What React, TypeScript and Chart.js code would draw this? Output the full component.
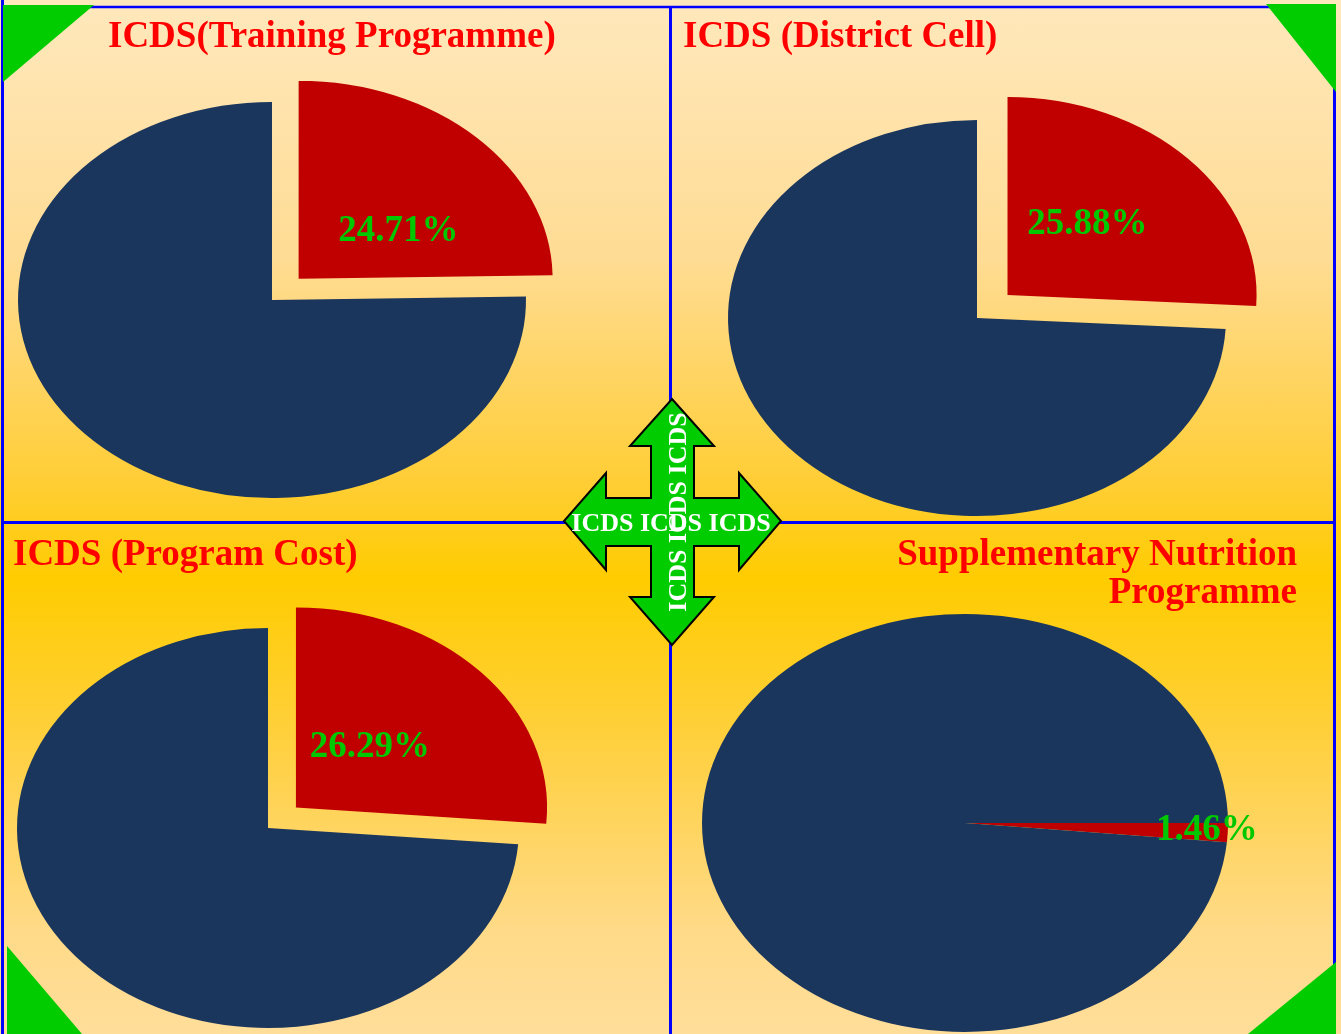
import React, { useEffect, useRef } from 'react';
import { Chart, registerables } from 'chart.js';

Chart.register(...registerables);

// ---- data ----
const sliceCategories = ['Share', 'Remaining'];
const trainingValues = [24.71, 75.29];
const districtCellValues = [25.88, 74.12];
const programCostValues = [26.29, 73.71];
const nutritionValues = [1.46, 98.54];
const sliceLabels = ['24.71%', '25.88%', '26.29%', '1.46%'];
const panelTitles = [
  'ICDS(Training Programme)',
  'ICDS (District Cell)',
  'ICDS (Program Cost)',
  'Supplementary Nutrition',
  'Programme',
];
const arrowWords = 'ICDS ICDS ICDS';

const SERIF = "'Liberation Serif', 'Times New Roman', serif";
const RED = '#C00000';
const NAVY = '#1B365D';

type PieProps = {
  values: number[];
  label: string;
  cx: number;
  cy: number;
  rx: number;
  ry: number;
  offset: number;
  rotation: number;
  labelFrac: number;
  labelR: number;
};

function EllipsePie(p: PieProps) {
  const ref = useRef<HTMLCanvasElement>(null);
  const S = Math.ceil(2 * (p.rx + p.offset + 90));
  useEffect(() => {
    if (!ref.current) return;
    const k = p.ry / p.rx;
    const squash = {
      id: 'squash',
      beforeDatasetsDraw(chart: any) {
        const { ctx, chartArea } = chart;
        const c = (chartArea.top + chartArea.bottom) / 2;
        ctx.save();
        ctx.translate(0, c);
        ctx.scale(1, k);
        ctx.translate(0, -c);
      },
      afterDatasetsDraw(chart: any) {
        chart.ctx.restore();
      },
      afterDraw(chart: any) {
        const { ctx } = chart;
        const arc: any = chart.getDatasetMeta(0).data[0];
        const { x, y, startAngle, endAngle, outerRadius } = arc.getProps(
          ['x', 'y', 'startAngle', 'endAngle', 'outerRadius'],
          true
        );
        // Chart.js translates an arc by offset / 4 along its mid angle
        const off = (arc.options.offset || 0) / 4;
        const mid = (startAngle + endAngle) / 2;
        const a = startAngle + (endAngle - startAngle) * p.labelFrac;
        const px = x + Math.cos(mid) * off + Math.cos(a) * outerRadius * p.labelR;
        const py = y + Math.sin(mid) * off + Math.sin(a) * outerRadius * p.labelR;
        const sy = y + (py - y) * k;
        ctx.save();
        ctx.font = `bold 37px ${SERIF}`;
        ctx.fillStyle = '#00C800';
        ctx.textAlign = 'center';
        ctx.textBaseline = 'middle';
        ctx.fillText(p.label, px, sy);
        ctx.restore();
      },
    };
    const chart = new Chart(ref.current, {
      type: 'pie',
      data: {
        labels: sliceCategories,
        datasets: [
          {
            data: p.values,
            backgroundColor: [RED, NAVY],
            borderWidth: 0,
            offset: [p.offset * 4, 0],
            hoverOffset: 0,
          },
        ],
      },
      options: {
        responsive: false,
        animation: false,
        devicePixelRatio: 1,
        radius: p.rx,
        rotation: p.rotation,
        layout: { padding: 0 },
        events: [],
        plugins: {
          legend: { display: false },
          tooltip: { enabled: false },
          title: { display: false },
        },
      } as any,
      plugins: [squash],
    });
    return () => chart.destroy();
  }, []);
  return (
    <canvas
      ref={ref}
      width={S}
      height={S}
      style={{ position: 'absolute', left: p.cx - S / 2, top: p.cy - S / 2, width: S, height: S }}
    />
  );
}

const titleStyle: React.CSSProperties = {
  position: 'absolute',
  fontFamily: SERIF,
  fontWeight: 'bold',
  fontSize: 37,
  lineHeight: '38px',
  color: '#FF0000',
  whiteSpace: 'nowrap',
};

const arrowPoints = [
  [672, 399], [714, 446], [694, 446], [694, 498], [739, 498], [739, 473], [781, 521],
  [739, 570], [739, 546], [694, 546], [694, 597], [714, 597], [672, 645], [630, 597],
  [651, 597], [651, 546], [606, 546], [606, 570], [564, 521], [606, 473], [606, 498],
  [651, 498], [651, 446], [630, 446],
]
  .map((q) => q.join(','))
  .join(' ');

export default function App() {
  return (
    <div
      style={{
        position: 'fixed',
        left: 0,
        top: 0,
        width: 1341,
        height: 1034,
        overflow: 'hidden',
        background:
          'linear-gradient(to bottom, #FFE8BC 0%, #FFDC94 25%, #FFCE38 46%, #FFCC00 56%, #FFD040 72%, #FFDA88 90%, #FFDE9A 100%)',
      }}
    >
      <EllipsePie values={trainingValues} label={sliceLabels[0]} cx={272} cy={300} rx={254} ry={198} offset={38} rotation={0} labelFrac={0.66} labelR={0.46} />
      <EllipsePie values={districtCellValues} label={sliceLabels[1]} cx={977} cy={318} rx={249} ry={198} offset={42} rotation={0} labelFrac={0.45} labelR={0.48} />
      <EllipsePie values={programCostValues} label={sliceLabels[2]} cx={268} cy={828} rx={251} ry={200} offset={38} rotation={0} labelFrac={0.47} labelR={0.42} />
      <EllipsePie values={nutritionValues} label={sliceLabels[3]} cx={965} cy={823} rx={263} ry={209} offset={0} rotation={90} labelFrac={0.45} labelR={0.92} />

      <svg width={1341} height={1034} style={{ position: 'absolute', left: 0, top: 0 }}>
        <g stroke="#0000FF" fill="none">
          <line x1={2.5} y1={0} x2={2.5} y2={1034} strokeWidth={3} />
          <line x1={2} y1={7} x2={1336} y2={7} strokeWidth={2.5} />
          <line x1={1334.5} y1={6} x2={1334.5} y2={1034} strokeWidth={3} />
          <line x1={670.5} y1={7} x2={670.5} y2={1034} strokeWidth={3} />
          <line x1={2} y1={522.5} x2={1336} y2={522.5} strokeWidth={3} />
        </g>
        <g fill="#00CC00">
          <polygon points="3,5 94,5 3,82" />
          <polygon points="1266,4 1336,4 1336,92" />
          <polygon points="7,946 7,1034 82,1034" />
          <polygon points="1336,962 1336,1034 1248,1034" />
        </g>
        <polygon points={arrowPoints} fill="#00CC00" stroke="#000000" strokeWidth={2} strokeLinejoin="miter" />
        <text
          x={671}
          y={522}
          fill="#FFFFFF"
          fontFamily={SERIF}
          fontWeight="bold"
          fontSize={26}
          textAnchor="middle"
          dominantBaseline="central"
        >
          {arrowWords}
        </text>
        <text
          x={677}
          y={512}
          transform="rotate(-90 677 512)"
          fill="#FFFFFF"
          fontFamily={SERIF}
          fontWeight="bold"
          fontSize={26}
          textAnchor="middle"
          dominantBaseline="central"
        >
          {arrowWords}
        </text>
      </svg>

      <div style={{ ...titleStyle, left: 108, top: 15.5 }}>{panelTitles[0]}</div>
      <div style={{ ...titleStyle, left: 683, top: 15.5 }}>{panelTitles[1]}</div>
      <div style={{ ...titleStyle, left: 13, top: 533.5 }}>{panelTitles[2]}</div>
      <div style={{ ...titleStyle, right: 44, top: 533.5, textAlign: 'right' }}>
        {panelTitles[3]}
        <br />
        {panelTitles[4]}
      </div>
    </div>
  );
}
